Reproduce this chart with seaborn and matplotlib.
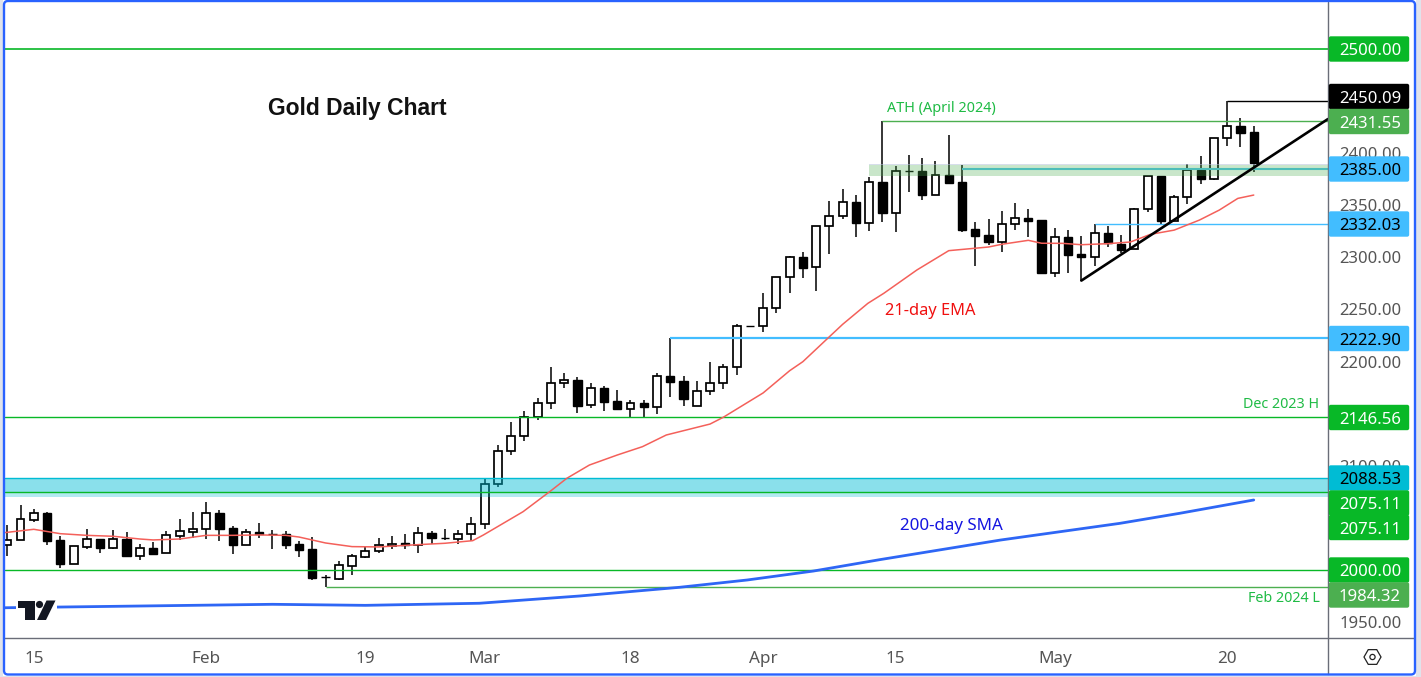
import matplotlib
matplotlib.use('Agg')
import matplotlib.pyplot as plt
from matplotlib.patches import Rectangle, FancyBboxPatch, RegularPolygon, Circle, Polygon
import seaborn as sns
import pandas as pd

# daily candles
opens = [2024.0, 2028.7, 2048.5, 2054.9, 2028.7, 2006.4, 2022.7, 2030.0, 2021.7, 2030.3,
         2014.1, 2021.1, 2016.3, 2033.2, 2037.0, 2039.3, 2054.9, 2040.6, 2024.6, 2036.7,
         2035.1, 2034.5, 2025.2, 2020.4, 1993.6, 1992.0, 2004.5, 2013.1, 2018.2, 2023.6,
         2025.9, 2024.6, 2035.5, 2031.3, 2030.3, 2034.5, 2044.1, 2082.4, 2114.0, 2128.4,
         2147.2, 2160.0, 2179.2, 2182.1, 2158.1, 2174.4, 2161.9, 2154.9, 2160.0, 2156.8,
         2185.9, 2181.1, 2157.1, 2171.5, 2179.2, 2194.5, 2233.8, 2233.8, 2251.0, 2280.8,
         2300.0, 2290.4, 2329.7, 2339.3, 2352.7, 2333.2, 2371.9, 2342.8, 2382.4, 2382.4,
         2360.1, 2378.6, 2371.9, 2327.0, 2321.1, 2315.0, 2331.6, 2337.7, 2335.8, 2285.3,
         2319.5, 2303.2, 2300.7, 2323.0, 2313.1, 2307.6, 2346.0, 2377.7, 2335.1, 2357.5,
         2383.7, 2375.4, 2414.1, 2425.6, 2419.8]
highs = [2043.4, 2062.6, 2058.8, 2055.9, 2032.6, 2023.0, 2039.6, 2030.0, 2038.6, 2036.7,
         2025.2, 2027.1, 2037.7, 2049.2, 2055.9, 2065.5, 2057.5, 2042.5, 2039.3, 2045.0,
         2038.6, 2037.4, 2027.8, 2031.6, 1995.8, 2008.6, 2015.7, 2022.7, 2030.7, 2032.9,
         2034.8, 2041.2, 2037.7, 2039.6, 2038.3, 2051.1, 2087.2, 2119.8, 2142.1, 2152.7,
         2165.1, 2194.8, 2189.1, 2184.9, 2179.5, 2176.3, 2172.8, 2162.9, 2162.9, 2188.8,
         2222.9, 2186.2, 2181.1, 2199.6, 2197.4, 2235.7, 2233.9, 2265.7, 2280.8, 2300.9,
         2304.8, 2329.7, 2353.7, 2365.5, 2359.4, 2376.7, 2430.4, 2387.6, 2398.1, 2394.9,
         2392.4, 2417.3, 2388.2, 2333.6, 2336.8, 2344.4, 2352.1, 2346.4, 2335.8, 2328.1,
         2326.2, 2320.5, 2332.03, 2330.1, 2321.4, 2347.3, 2377.7, 2377.7, 2359.4, 2389.5,
         2397.1, 2414.1, 2450.09, 2433.2, 2425.6]
lows = [2013.7, 2028.7, 2046.6, 2024.6, 2002.6, 2006.4, 2020.8, 2016.9, 2020.8, 2012.5,
        2010.2, 2016.0, 2016.3, 2029.4, 2031.3, 2030.3, 2028.4, 2016.0, 2024.0, 2031.3,
        2020.8, 2020.8, 2013.1, 1991.1, 1984.32, 1991.1, 1995.5, 2012.1, 2016.9, 2020.4,
        2020.8, 2016.9, 2025.6, 2029.4, 2025.2, 2027.8, 2039.6, 2080.2, 2110.8, 2124.2,
        2144.0, 2154.6, 2174.7, 2151.1, 2155.9, 2153.0, 2154.9, 2146.6, 2146.6, 2150.1,
        2166.4, 2157.8, 2157.1, 2168.3, 2174.1, 2187.5, 2233.7, 2228.7, 2246.9, 2266.1,
        2280.5, 2268.0, 2303.5, 2337.1, 2319.8, 2325.6, 2334.2, 2324.6, 2362.9, 2355.3,
        2360.1, 2371.6, 2324.6, 2292.0, 2311.8, 2305.1, 2326.5, 2319.5, 2285.3, 2281.5,
        2285.3, 2277.7, 2292.0, 2310.2, 2303.9, 2307.6, 2343.8, 2332.0, 2335.1, 2351.5,
        2370.6, 2374.4, 2407.0, 2406.1, 2382.1]
closes = [2029.1, 2048.9, 2054.6, 2028.4, 2006.4, 2023.0, 2029.7, 2021.7, 2029.7, 2014.1,
          2021.1, 2016.0, 2033.5, 2037.4, 2039.3, 2054.6, 2039.9, 2024.6, 2036.4, 2035.1,
          2035.1, 2024.6, 2019.5, 1993.0, 1993.6, 2004.8, 2013.4, 2018.2, 2024.0, 2025.6,
          2024.3, 2035.5, 2031.3, 2031.3, 2034.5, 2044.1, 2082.4, 2114.0, 2128.4, 2147.2,
          2160.0, 2179.2, 2182.1, 2157.8, 2174.4, 2161.6, 2154.9, 2160.0, 2156.8, 2185.9,
          2180.8, 2164.5, 2171.5, 2179.2, 2194.5, 2233.8, 2233.8, 2251.0, 2280.8, 2299.9,
          2290.1, 2329.7, 2339.3, 2352.7, 2333.2, 2371.9, 2342.8, 2382.4, 2382.4, 2360.1,
          2378.6, 2371.6, 2326.5, 2320.8, 2315.0, 2331.6, 2337.4, 2335.2, 2285.3, 2319.2,
          2302.6, 2300.7, 2323.0, 2313.4, 2307.0, 2346.0, 2377.7, 2334.8, 2357.5, 2383.7,
          2375.4, 2414.1, 2425.6, 2419.5, 2390.7]

ema_day = [-0.2, 2, 4, 6, 8, 10, 11, 13, 15, 17, 19, 21, 22, 24, 26, 28, 31, 33, 35.1, 35.9,
           37.4, 38.9, 41, 42.2, 43.9, 46, 47.9, 49.7, 53, 54, 57, 59, 60, 62, 63, 64.9,
           66.1, 68.6, 71, 74, 75, 77, 78, 79.6, 81, 83, 84.7, 86.2, 88, 89.9, 91.4, 92.8, 94]
ema_val = [2036.1, 2039.3, 2035.1, 2033.5, 2032.6, 2030.0, 2029.1, 2030.0, 2033.5, 2033.5,
           2033.9, 2033.5, 2031.9, 2026.2, 2022.7, 2022.4, 2024.6, 2025.9, 2028.4, 2033.8,
           2045.0, 2056.2, 2076.3, 2088.2, 2100.9, 2110.5, 2118.5, 2129.7, 2140.2, 2146.7,
           2170.0, 2191.3, 2200.0, 2223.9, 2235.8, 2255.9, 2265.5, 2287.9, 2306.4, 2309.9,
           2312.5, 2316.3, 2313.5, 2313.4, 2312.1, 2313.1, 2314.7, 2322.0, 2326.1, 2335.7,
           2345.3, 2356.5, 2359.7]
sma_day = [-0.2, 20, 27, 35.6, 43.2, 50.7, 55.8, 60.8, 65.8, 74.9, 83.9, 88.4, 94]
sma_val = [1964.1, 1967.4, 1966.4, 1968.4, 1975.4, 1983.7, 1990.7, 1999.3, 2010.2, 2029.0,
           2045.0, 2054.6, 2067.4]

tick_days = [2, 15, 27, 36, 47, 57, 67, 79, 92]
tick_labels = ['15', 'Feb', '19', 'Mar', '18', 'Apr', '15', 'May', '20']
price_ticks = [1950, 2100, 2200, 2250, 2300, 2350, 2400]

level_text = ['2500.00', '2450.09', '2431.55', '2385.00', '2332.03', '2222.90',
              '2146.56', '2088.53', '2075.11', '2075.11', '2000.00', '1984.32']
level_bg = ['#08b827', '#000000', '#4caf50', '#42bdff', '#42bdff', '#42bdff',
            '#08b827', '#00bcd4', '#08b827', '#08b827', '#08b827', '#4caf50']
level_fg = ['white', 'white', 'white', 'black', 'black', 'black',
            'white', 'black', 'white', 'white', 'white', 'white']
level_y = [49, 96.5, 121.5, 169, 224, 338.5, 417.5, 478, 503, 527.5, 570, 595]

W, H = 1421, 677
sns.set_theme(style='white')
plt.rcParams['font.family'] = ['Noto Sans', 'DejaVu Sans']

fig = plt.figure(figsize=(W / 100, H / 100), dpi=100, facecolor='white')
ax = fig.add_axes([5 / W, (H - 637) / H, 1323 / W, 635 / H])
ax.set_xlim(-0.17, 99.6)
ax.set_ylim(1936.06, 2544.76)

# candles
df = pd.DataFrame({'o': opens, 'h': highs, 'l': lows, 'c': closes})
df['day'] = df.index
up = df[df.c > df.o]
down = df[df.c <= df.o]
ax.vlines(df.day, df.l, df.h, color='black', lw=1.1, zorder=3)
ax.bar(up.day, up.c - up.o, bottom=up.o, width=0.6, color='white', edgecolor='black', lw=1.25, zorder=4)
ax.bar(down.day, down.c - down.o, bottom=down.o, width=0.62, color='black', edgecolor='black', lw=1.0, zorder=4)

# zones go over the candles
ax.axhspan(2075.11, 2088.53, color='#00bcd4', alpha=0.46, lw=0, zorder=5)
ax.axhspan(2070.4, 2075.11, color='#00bcd4', alpha=0.3, lw=0, zorder=5)
ax.fill_between([64.95, 99.6], 2388.3, 2389.5, color='#b6c4dc', alpha=0.55, lw=0, zorder=5)
ax.fill_between([64.95, 99.6], 2378.3, 2388.3, color='#4caf50', alpha=0.3, lw=0, zorder=5)

# horizontal levels
for lev, col in [(2500, '#08b827'), (2146.56, '#08b827'), (2088.53, '#00bcd4'), (2075.11, '#08b827'), (2000, '#08b827')]:
    ax.axhline(lev, color=col, lw=1.2 if lev == 2500 else 1.0, zorder=6)
ax.hlines(2430.4, 66, 99.6, color='#4caf50', lw=1.0, zorder=6)
ax.hlines(2450.09, 92, 99.6, color='black', lw=1.0, zorder=6)
ax.hlines(2385, 72, 99.6, color='#4dbdb8', lw=1.5, zorder=6)
ax.hlines(2332.03, 82, 99.6, color='#42bdff', lw=1.0, zorder=6)
ax.hlines(2222.9, 50, 99.6, color='#42bdff', lw=1.6, zorder=6)
ax.hlines(1984.32, 24, 99.6, color='#4caf50', lw=1.0, zorder=6)

ema = pd.DataFrame({'day': ema_day, 'val': ema_val})
sma = pd.DataFrame({'day': sma_day, 'val': sma_val})
sns.lineplot(data=ema, x='day', y='val', ax=ax, color='#f4605a', lw=1.1, zorder=7, estimator=None)
sns.lineplot(data=sma, x='day', y='val', ax=ax, color='#2e66f5', lw=2.0, zorder=7, estimator=None)
ax.plot([81, 99.6], [2277.7, 2432.6], color='black', lw=1.9, zorder=8)

ax.set_xlabel('')
ax.set_ylabel('')
ax.set_xticks(tick_days, tick_labels)
ax.yaxis.tick_right()
ax.set_yticks(price_ticks, [f'{p:.2f}' for p in price_ticks])
ax.tick_params(axis='x', length=0, pad=10, labelsize=12.3, labelcolor='#555555')
ax.tick_params(axis='y', length=0, pad=8, labelsize=12, labelcolor='#555555')
for s in ax.spines.values():
    s.set_visible(False)

# page furniture drawn in pixel coordinates
ov = fig.add_axes([0, 0, 1, 1], zorder=10)
ov.set_xlim(0, W)
ov.set_ylim(H, 0)
ov.axis('off')
ov.patch.set_alpha(0)

ov.plot([1328, 1328], [2, 674], color='#6a6d78', lw=1.0)
ov.plot([4, 1415], [637.5, 637.5], color='#6a6d78', lw=1.0)

for txt, bg, fg, y in zip(level_text, level_bg, level_fg, level_y):
    ov.add_patch(FancyBboxPatch((1330, y - 11.5), 78, 23, boxstyle='round,pad=1.2,rounding_size=2', fc=bg, ec='none', zorder=3))
    ov.text(1370, y + 2.2, txt, color=fg, fontsize=12, ha='center', va='center', zorder=4)

ov.text(357.5, 109, 'Gold Daily Chart', fontsize=16.5, family='Liberation Sans', fontweight='bold', color='#111111', ha='center', va='center')
ov.text(941.5, 109, 'ATH (April 2024)', fontsize=10.4, color='#1fbb45', ha='center', va='center')
ov.text(930, 311, '21-day EMA', fontsize=11.8, color='#f01010', ha='center', va='center')
ov.text(951.5, 526, '200-day SMA', fontsize=12.2, color='#1515e0', ha='center', va='center')
ov.text(1281.5, 405, 'Dec 2023 H', fontsize=10.3, color='#1fbb45', ha='center', va='center')
ov.text(1283.5, 598, 'Feb 2024 L', fontsize=10.3, color='#1fbb45', ha='center', va='center')

# tradingview mark
ov.add_patch(Rectangle((16, 600), 41, 21, fc='white', ec='none', zorder=2))
ov.add_patch(Polygon([(17.5, 600.5), (34.5, 600.5), (34.5, 620), (25, 620), (25, 608), (17.5, 608)], fc='#131722', ec='none', zorder=3))
ov.add_patch(Circle((39.5, 604.5), 3.6, fc='#131722', ec='none', zorder=3))
ov.add_patch(Polygon([(46.5, 600.5), (55.5, 600.5), (46, 620), (37, 620)], fc='#131722', ec='none', zorder=3))

# settings icon
ov.add_patch(RegularPolygon((1372.5, 657), 6, radius=8.5, orientation=3.14159 / 6, fc='none', ec='#222222', lw=0.9))
ov.add_patch(Circle((1372.5, 657), 2.6, fc='none', ec='#222222', lw=0.9))

# outer frame
ov.add_patch(Rectangle((0, 0), 3, H, fc='#e0e3eb', ec='none', zorder=8))
ov.add_patch(Rectangle((1416, 0), 5, H, fc='#e0e3eb', ec='none', zorder=8))
ov.add_patch(Rectangle((0, 675.5), W, 2, fc='#e0e3eb', ec='none', zorder=8))
ov.add_patch(FancyBboxPatch((4, 1), 1411, 673.5, boxstyle='round,pad=0,rounding_size=4', fc='none', ec='#2962ff', lw=1.7, zorder=9))

plt.savefig('out.png', dpi=100)
plt.close()
